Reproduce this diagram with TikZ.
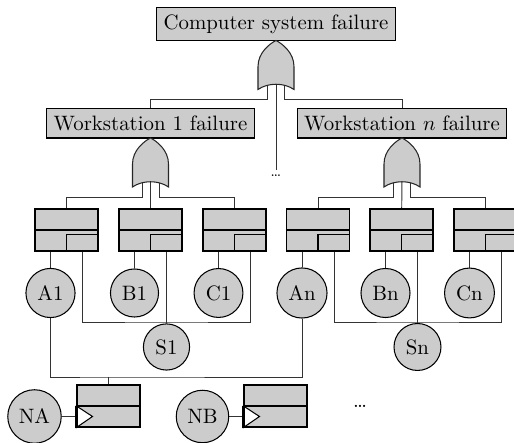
\documentclass[tikz,border=0pt]{standalone}
\usetikzlibrary{backgrounds}
\begin{document}
\begin{tikzpicture}[x=0.48pt,y=-0.48pt,
  box/.style={draw, fill=gray!40, line width=0.5pt},
  evbox/.style={draw, fill=gray!40, line width=0.5pt, minimum width=30.24pt, minimum height=20.16pt, inner sep=0pt},
  ev/.style={circle, draw, fill=gray!40, line width=0.5pt},
  conn/.style={line width=0.45pt, draw=black!80},
  gatestyle/.style={draw=black!85, fill=gray!40, line width=0.5pt},
  orgate/.pic={
    \path[gatestyle] (0,0) .. controls (-6,3) and (-18,12) .. (-18,26) -- (-18,49)
      .. controls (-8,42) and (8,42) .. (18,49) -- (18,26) .. controls (18,12) and (6,3) .. cycle;
    \coordinate (-l) at (-8.5,40);
    \coordinate (-m) at (0,40);
    \coordinate (-r) at (8.5,40);
  }]
\useasboundingbox (0,0) rectangle (514,443);

% top events
\node[box] (top) at (276,24) {Computer system failure};
\pic (g0) at (276,40.5) {orgate};
\node[box] (ws1) at (150.5,123.5) {Workstation 1 failure};
\node[box] (wsn) at (402,123.5) {Workstation $n$ failure};
\pic (g1) at (150.5,138) {orgate};
\pic (gn) at (402,138) {orgate};
\coordinate (d1) at (276,170);
\node[anchor=base, font=\scriptsize, inner sep=0pt] (dots1) at (276,176.5) {\ldots};

% event boxes
\node[evbox] (b1) at (66.5,230) {};
\node[evbox] (b2) at (150.5,230) {};
\node[evbox] (b3) at (234.5,230) {};
\node[evbox] (b4) at (318,230) {};
\node[evbox] (b5) at (401.5,230) {};
\node[evbox] (b6) at (485.5,230) {};
\foreach \b in {b1,b2,b3,b4,b5,b6}{
  \draw[line width=0.5pt] (\b.west) -- (\b.east);
  \draw[line width=0.5pt] (\b.south) |- ([yshift=-2.16pt]\b.east);
}

% basic events
\node[ev] (A1) at (50.5,293) {A1};
\node[ev] (B1) at (134.5,293) {B1};
\node[ev] (C1) at (218.5,293) {C1};
\node[ev] (An) at (302,293) {An};
\node[ev] (Bn) at (385.5,293) {Bn};
\node[ev] (Cn) at (469.5,293) {Cn};
\node[ev] (S1) at (166.5,347) {S1};
\node[ev] (Sn) at (417.5,347) {Sn};

% network boxes
\node[evbox] (nA) at (108.5,406) {};
\node[evbox] (nB) at (275.5,406) {};
\foreach \b in {nA,nB}{
  \draw[line width=0.5pt] (\b.west) -- (\b.east);
  \draw[line width=0.5pt, fill=white] (\b.west) -- ([xshift=7.68pt,yshift=-5.04pt]\b.west) -- (\b.south west) -- cycle;
  \draw[line width=1pt] (\b.west) -- (\b.south west);
}
\node[ev] (NA) at (34.5,416.5) {NA};
\node[ev] (NB) at (202.5,416.5) {NB};
\node[anchor=base, inner sep=0pt] (dots2) at (360,408) {\ldots};

\coordinate (busS1) at (166.5,322);
\coordinate (busSn) at (417.5,322);
\coordinate (busA) at (108.5,377);

\begin{pgfonlayer}{background}
  \draw[conn] (g0-l) -- ++(0,19) -| (ws1);
  \draw[conn] (g0-m) -- (d1);
  \draw[conn] (g0-r) -- ++(0,19) -| (wsn);
  \draw[conn] (g1-l) -- ++(0,19) -| (b1);
  \draw[conn] (g1-m) -- (b2);
  \draw[conn] (g1-r) -- ++(0,19) -| (b3);
  \draw[conn] (gn-l) -- ++(0,19) -| (b4);
  \draw[conn] (gn-m) -- (b5);
  \draw[conn] (gn-r) -- ++(0,19) -| (b6);
  \draw[conn] (A1) -- (A1 |- b1.south);
  \draw[conn] (B1) -- (B1 |- b2.south);
  \draw[conn] (C1) -- (C1 |- b3.south);
  \draw[conn] (An) -- (An |- b4.south);
  \draw[conn] (Bn) -- (Bn |- b5.south);
  \draw[conn] (Cn) -- (Cn |- b6.south);
  \draw[conn] ([xshift=7.68pt]b1.south) |- (busS1) -| ([xshift=7.68pt]b3.south);
  \draw[conn] ([xshift=7.68pt]b2.south) -- (S1);
  \draw[conn] ([xshift=7.68pt]b4.south) |- (busSn) -| ([xshift=7.68pt]b6.south);
  \draw[conn] ([xshift=7.68pt]b5.south) -- (Sn);
  \draw[conn] (A1) |- (busA) -| (An);
  \draw[conn] (busA) -- (nA);
  \draw[conn] (NA) -- (NA -| nA.west);
  \draw[conn] (NB) -- (NB -| nB.west);
\end{pgfonlayer}
\end{tikzpicture}
\end{document}
